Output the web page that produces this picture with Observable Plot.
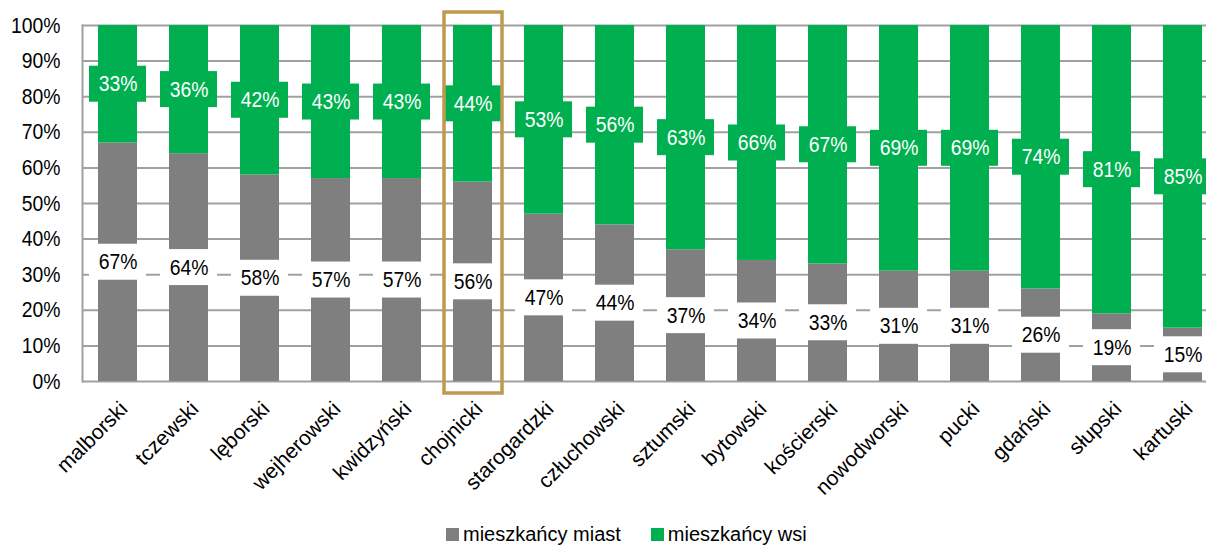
<!DOCTYPE html>
<html>
<head>
<meta charset="utf-8">
<script src="https://cdn.jsdelivr.net/npm/d3@7"></script>
<script src="https://cdn.jsdelivr.net/npm/@observablehq/plot@0.6"></script>
<style>
  body { margin: 0; background: #fff; }
  #chart { width: 1206px; font-family: "Liberation Sans", Arial, sans-serif; }
  .legend { display: flex; align-items: center; height: 24px; margin-top: 17px; padding-left: 446px;
    font-size: 20px; color: #000; }
  .legend .sw { width: 13px; height: 13px; display: inline-block; margin-right: 4px; }
  .legend .item { display: flex; align-items: center; margin-right: 30px; }
</style>
</head>
<body>
<div id="chart"></div>
<script>
const powiaty = ["malborski","tczewski","lęborski","wejherowski","kwidzyński","chojnicki","starogardzki","człuchowski","sztumski","bytowski","kościerski","nowodworski","pucki","gdański","słupski","kartuski"];
const miasta = [67,64,58,57,57,56,47,44,37,34,33,31,31,26,19,15];
const wsi = [33,36,42,43,43,44,53,56,63,66,67,69,69,74,81,85];
const highlighted = ["chojnicki"];
const yTicks = [0,10,20,30,40,50,60,70,80,90,100];
const seriesNames = ["mieszkańcy miast", "mieszkańcy wsi"];
const colors = ["#7F7F7F", "#00B050"];

const rows = powiaty.map((p, i) => ({powiat: p, miasta: miasta[i], wsi: wsi[i]}));
const FONT = "Liberation Sans, Arial, sans-serif";

const plot = Plot.plot({
  width: 1206,
  height: 505,
  marginLeft: 82,
  marginRight: 0,
  marginTop: 25,
  marginBottom: 124,
  style: {fontFamily: FONT, fontSize: "22px", color: "#000", background: "#fff"},
  x: {domain: powiaty, range: [82, 1218], paddingInner: 0.45, paddingOuter: 0.225, label: null},
  y: {domain: [0, 100], label: null},
  marks: [
    Plot.ruleY(yTicks, {stroke: "#A0A0A0", strokeWidth: 2}),
    Plot.frame({anchor: "left", stroke: "#A0A0A0", strokeWidth: 2}),
    Plot.barY(rows, {x: "powiat", y1: 0, y2: "miasta", fill: colors[0]}),
    Plot.barY(rows, {x: "powiat", y1: "miasta", y2: 100, fill: colors[1]}),
    Plot.barY(rows, {x: "powiat", y1: d => d.miasta / 2, y2: d => d.miasta / 2, fill: "#fff",
      insetTop: -18, insetBottom: -18, insetLeft: -9, insetRight: -9}),
    Plot.barY(rows, {x: "powiat", y1: d => d.miasta + d.wsi / 2, y2: d => d.miasta + d.wsi / 2, fill: colors[1],
      insetTop: -18, insetBottom: -18, insetLeft: -9, insetRight: -9}),
    Plot.text(rows, {x: "powiat", y: d => d.miasta / 2, text: d => d.miasta + "%", fill: "#000", fontSize: 22}),
    Plot.text(rows, {x: "powiat", y: d => d.miasta + d.wsi / 2, text: d => d.wsi + "%", fill: "#fff", fontSize: 22}),
    Plot.barY(rows.filter(d => highlighted.includes(d.powiat)), {x: "powiat", y1: 0, y2: 100, fill: "none",
      stroke: "#BF9A4E", strokeWidth: 3.5, insetTop: -13, insetBottom: -12, insetLeft: -9, insetRight: -10}),
    Plot.axisY({ticks: yTicks, tickFormat: d => d + "%", tickSize: 0, tickPadding: 22, fontSize: 22}),
    Plot.axisX({tickSize: 0, tickRotate: -45, tickPadding: 24, dx: 6, fontSize: 21})
  ]
});

// slightly condensed glyphs for data labels and y tick labels, as in the original
d3.select(plot).selectAll('g[aria-label="text"] text, g[aria-label="y-axis tick label"] text').each(function () {
  const t = this.getAttribute("transform");
  if (t) {
    this.setAttribute("transform", t + " scale(0.88,1)");
  } else {
    const x = +this.getAttribute("x") || 0, y = +this.getAttribute("y") || 0;
    this.setAttribute("x", 0); this.setAttribute("y", 0);
    this.setAttribute("transform", `translate(${x},${y}) scale(0.88,1)`);
  }
});
document.getElementById("chart").appendChild(plot);

const legend = document.createElement("div");
legend.className = "legend";
legend.style.fontFamily = FONT;
seriesNames.forEach((n, i) => {
  const it = document.createElement("span");
  it.className = "item";
  const sw = document.createElement("span");
  sw.className = "sw";
  sw.style.background = colors[i];
  it.appendChild(sw);
  it.appendChild(document.createTextNode(n));
  legend.appendChild(it);
});
document.getElementById("chart").appendChild(legend);
</script>
</body>
</html>
